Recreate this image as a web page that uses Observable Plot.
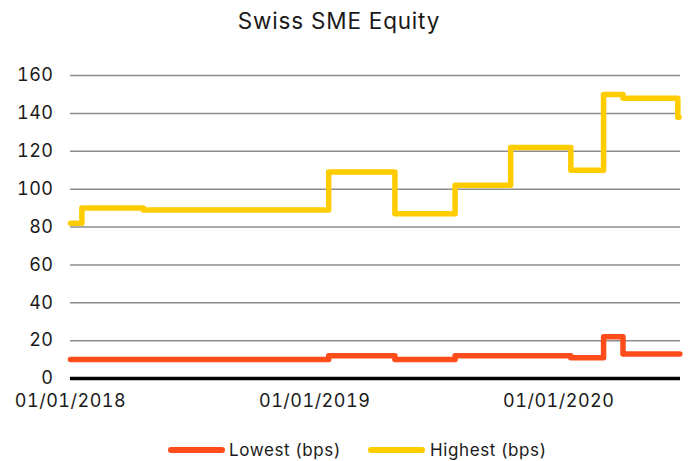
<!DOCTYPE html>
<html>
<head>
<meta charset="utf-8">
<script src="https://cdn.jsdelivr.net/npm/d3@7"></script>
<script src="https://cdn.jsdelivr.net/npm/@observablehq/plot@0.6"></script>
<style>
  html, body { margin: 0; padding: 0; background: #fff; }
  #wrap { position: relative; width: 692px; height: 461px; font-family: Inter, "Noto Sans", sans-serif; color: #1a1a1a; }
  #title { position: absolute; top: 7px; left: 0; width: 678px; text-align: center; font-size: 22.5px; line-height: 28px; letter-spacing: 0.8px; }
  #chart { position: absolute; top: 44px; left: 0; }
  #chart svg text { letter-spacing: 0.5px; }
  .lg-sw { position: absolute; height: 6px; border-radius: 3px; top: 447px; }
  .lg-tx { position: absolute; top: 439px; font-size: 17px; line-height: 22px; letter-spacing: 0.6px; }
</style>
</head>
<body>
<div id="wrap">
  <div id="title">Swiss SME Equity</div>
  <div id="chart"></div>
  <div class="lg-sw" style="left:168px;width:57px;background:#FF4C1B"></div>
  <div class="lg-tx" style="left:229px">Lowest (bps)</div>
  <div class="lg-sw" style="left:368px;width:57px;background:#FFCC00"></div>
  <div class="lg-tx" style="left:430px">Highest (bps)</div>
</div>
<script>
const seriesNames = ["Lowest (bps)", "Highest (bps)"];
const seriesColors = ["#FF4C1B", "#FFCC00"];

const lowDates  = ["2018-01-01","2019-01-22","2019-05-01","2019-07-30","2020-01-19","2020-03-08","2020-04-06","2020-06-30"];
const lowValues = [10, 12, 10, 12, 11, 22, 13, 13];

const highDates  = ["2018-01-01","2018-01-18","2018-04-20","2019-01-22","2019-05-01","2019-07-30","2019-10-21","2020-01-19","2020-03-08","2020-04-06","2020-06-27","2020-06-29"];
const highValues = [82, 90, 89, 109, 87, 102, 122, 110, 150, 148, 138, 138];

const yTicks = [0, 20, 40, 60, 80, 100, 120, 140, 160];
const xTickLabels = ["2018-01-01", "2019-01-01", "2020-01-01"];
const xDomain = ["2018-01-01", "2020-07-01"];

const parse = d3.utcParse("%Y-%m-%d");
const low = lowDates.map((d, i) => ({date: parse(d), value: lowValues[i], series: seriesNames[0]}));
const high = highDates.map((d, i) => ({date: parse(d), value: highValues[i], series: seriesNames[1]}));

const chart = Plot.plot({
  width: 692,
  height: 381,
  marginLeft: 70,
  marginRight: 12,
  marginTop: 31,
  marginBottom: 47,
  style: {fontFamily: "Inter, 'Noto Sans', sans-serif", fontSize: "18px", color: "#1a1a1a", background: "#fff"},
  x: {type: "utc", domain: xDomain.map(parse)},
  y: {domain: [0, 160]},
  marks: [
    Plot.ruleY(yTicks.filter(d => d > 0), {stroke: "#8c8c8c", strokeWidth: 1.5}),
    Plot.axisY({ticks: yTicks, tickSize: 0, tickPadding: 17, label: null, fontSize: 18}),
    Plot.axisX({ticks: xTickLabels.map(parse), tickSize: 0, tickPadding: 16, tickFormat: d3.utcFormat("%d/%m/%Y"), label: null, fontSize: 18}),
    Plot.line(low, {x: "date", y: "value", curve: "step-after", stroke: seriesColors[0], strokeWidth: 5.5, strokeLinejoin: "round"}),
    Plot.line(high, {x: "date", y: "value", curve: "step-after", stroke: seriesColors[1], strokeWidth: 5.5, strokeLinejoin: "round", strokeLinecap: "round"}),
    Plot.ruleY([0], {stroke: "#000", strokeWidth: 3.5})
  ]
});
document.getElementById("chart").appendChild(chart);
</script>
</body>
</html>
